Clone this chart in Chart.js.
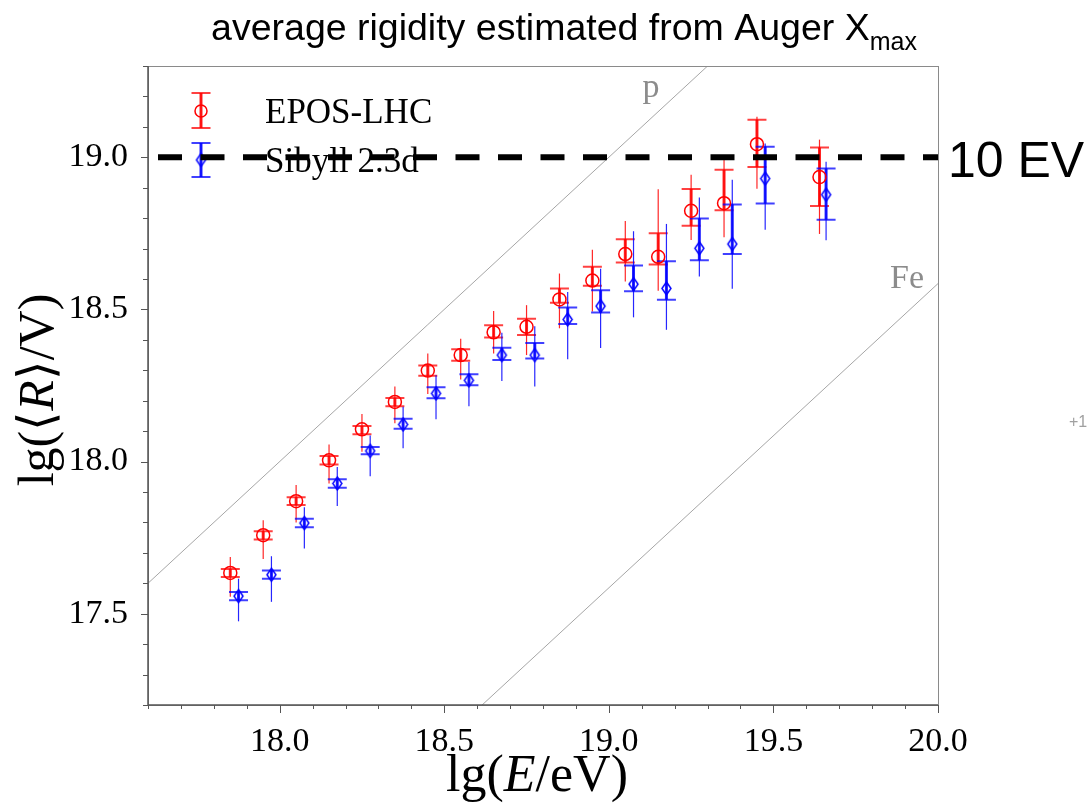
<!DOCTYPE html>
<html>
<head>
<meta charset="utf-8">
<title>average rigidity estimated from Auger Xmax</title>
<script src="https://cdn.jsdelivr.net/npm/chart.js@4.4.0/dist/chart.umd.min.js"></script>
<style>
    html, body { margin: 0; padding: 0; background: #fff; }
    #wrap { width: 1092px; height: 803px; }
</style>
</head>
<body>
<div id="wrap"><canvas id="chart" width="1092" height="803"></canvas></div>
<script>
// EPOS-LHC: lg(E/eV), lg(<R>/V), stat and sys errors (up / down)
const eposLgE = [17.85, 17.95, 18.05, 18.15, 18.25, 18.35, 18.45, 18.55, 18.65, 18.75, 18.85, 18.95, 19.05, 19.15, 19.25, 19.35, 19.45, 19.64];
const eposLgR = [17.634, 17.758, 17.870, 18.004, 18.106, 18.196, 18.299, 18.350, 18.425, 18.443, 18.533, 18.595, 18.682, 18.673, 18.824, 18.849, 19.043, 18.935];
const eposStatUp = [0.052, 0.049, 0.053, 0.052, 0.050, 0.051, 0.056, 0.054, 0.070, 0.071, 0.085, 0.101, 0.109, 0.222, 0.119, 0.144, 0.090, 0.123];
const eposStatDown = [0.078, 0.078, 0.070, 0.076, 0.074, 0.070, 0.077, 0.080, 0.070, 0.093, 0.095, 0.102, 0.090, 0.112, 0.096, 0.112, 0.146, 0.187];
const eposSysUp = [0.013, 0.013, 0.013, 0.014, 0.011, 0.013, 0.017, 0.019, 0.023, 0.026, 0.036, 0.045, 0.049, 0.077, 0.072, 0.110, 0.080, 0.097];
const eposSysDown = [0.013, 0.014, 0.013, 0.014, 0.016, 0.014, 0.017, 0.019, 0.017, 0.027, 0.011, 0.017, 0.028, 0.025, 0.049, 0.023, 0.075, 0.095];

// Sibyll 2.3d
const sibyllLgE = [17.875, 17.975, 18.075, 18.175, 18.275, 18.375, 18.475, 18.575, 18.675, 18.775, 18.875, 18.975, 19.075, 19.175, 19.275, 19.375, 19.475, 19.66];
const sibyllLgR = [17.558, 17.628, 17.798, 17.928, 18.035, 18.122, 18.224, 18.267, 18.350, 18.350, 18.467, 18.511, 18.583, 18.569, 18.701, 18.715, 18.930, 18.877];
const sibyllStatUp = [0.057, 0.061, 0.052, 0.054, 0.051, 0.058, 0.060, 0.060, 0.073, 0.095, 0.090, 0.123, 0.174, 0.212, 0.167, 0.211, 0.115, 0.108];
const sibyllStatDown = [0.083, 0.089, 0.084, 0.074, 0.083, 0.078, 0.085, 0.085, 0.085, 0.103, 0.131, 0.138, 0.109, 0.136, 0.093, 0.147, 0.168, 0.150];
const sibyllSysUp = [0.013, 0.014, 0.014, 0.014, 0.013, 0.019, 0.020, 0.020, 0.024, 0.040, 0.039, 0.052, 0.061, 0.089, 0.098, 0.130, 0.105, 0.086];
const sibyllSysDown = [0.014, 0.013, 0.014, 0.014, 0.011, 0.014, 0.016, 0.016, 0.016, 0.011, 0.015, 0.021, 0.023, 0.037, 0.039, 0.033, 0.082, 0.082];

// pure proton / pure iron lines and the 10 EV level
const protonLineE = [17.5, 20.0];
const protonLineR = [17.5, 20.0];
const ironLineE = [18.5, 20.0];
const ironLineR = [17.085, 18.585];
const tenEVLineE = [17.6, 20.0];
const tenEVLineR = [19.0, 19.0];

const xTickLabels = ['18.0', '18.5', '19.0', '19.5', '20.0'];
const yTickLabels = ['17.5', '18.0', '18.5', '19.0'];

const serif = '"Liberation Serif", "Times New Roman", serif';
const sans = '"Liberation Sans", Arial, sans-serif';
const RED = '#ff0000';
const BLUE = '#0000ff';

function toPoints(xs, ys) {
    return xs.map(function(x, i) { return {x: x, y: ys[i]}; });
}

function diamondMarker(w, h, color) {
    const c = document.createElement('canvas');
    c.width = w + 4;
    c.height = h + 4;
    const g = c.getContext('2d');
    g.strokeStyle = color;
    g.lineWidth = 1.5;
    g.beginPath();
    g.moveTo(c.width / 2, 2);
    g.lineTo(c.width - 2, c.height / 2);
    g.lineTo(c.width / 2, c.height - 2);
    g.lineTo(2, c.height / 2);
    g.closePath();
    g.stroke();
    return c;
}

function drawBar(ctx, px, yStatTop, yStatBot, ySysTop, ySysBot, color) {
    ctx.strokeStyle = color;
    // stat error: thin line
    ctx.globalAlpha = 0.85;
    ctx.lineWidth = 1.2;
    ctx.beginPath();
    ctx.moveTo(px, yStatTop);
    ctx.lineTo(px, yStatBot);
    ctx.stroke();
    // sys error: thick line + caps
    ctx.lineWidth = 3;
    ctx.beginPath();
    ctx.moveTo(px, ySysTop);
    ctx.lineTo(px, ySysBot);
    ctx.stroke();
    ctx.globalAlpha = 0.75;
    ctx.lineWidth = 2;
    ctx.beginPath();
    ctx.moveTo(px - 9.5, ySysTop);
    ctx.lineTo(px + 9.5, ySysTop);
    ctx.moveTo(px - 9.5, ySysBot);
    ctx.lineTo(px + 9.5, ySysBot);
    ctx.stroke();
    ctx.globalAlpha = 1;
}

function drawErrors(chart, lgE, lgR, statUp, statDown, sysUp, sysDown, color) {
    const ctx = chart.ctx;
    const x = chart.scales.x;
    const y = chart.scales.y;
    for (let i = 0; i < lgE.length; i++) {
        const px = x.getPixelForValue(lgE[i]);
        drawBar(ctx, px,
            y.getPixelForValue(lgR[i] + statUp[i]),
            y.getPixelForValue(lgR[i] - statDown[i]),
            y.getPixelForValue(lgR[i] + sysUp[i]),
            y.getPixelForValue(lgR[i] - sysDown[i]),
            color);
    }
}

function drawSegments(ctx, parts, x, y, align) {
    let total = 0;
    parts.forEach(function(p) { ctx.font = p.font; total += ctx.measureText(p.text).width; });
    let cx = align === 'center' ? x - total / 2 : x;
    parts.forEach(function(p) {
        ctx.font = p.font;
        ctx.fillText(p.text, cx, y + (p.dy || 0));
        cx += ctx.measureText(p.text).width;
    });
}

const sibyllMarker = diamondMarker(9, 13, BLUE);

const errorBars = {
    id: 'errorBars',
    beforeDatasetsDraw(chart) {
        const ctx = chart.ctx;
        ctx.save();
        drawErrors(chart, eposLgE, eposLgR, eposStatUp, eposStatDown, eposSysUp, eposSysDown, RED);
        drawErrors(chart, sibyllLgE, sibyllLgR, sibyllStatUp, sibyllStatDown, sibyllSysUp, sibyllSysDown, BLUE);

        // legend
        drawBar(ctx, 201, 93, 128, 93, 128, RED);
        ctx.strokeStyle = RED;
        ctx.lineWidth = 1.5;
        ctx.beginPath();
        ctx.arc(201, 111, 6, 0, Math.PI * 2);
        ctx.stroke();
        drawBar(ctx, 201, 143, 177, 143, 177, BLUE);
        ctx.drawImage(sibyllMarker, 201 - sibyllMarker.width / 2, 160 - sibyllMarker.height / 2);

        ctx.fillStyle = '#000';
        ctx.textBaseline = 'alphabetic';
        ctx.font = '35px ' + serif;
        ctx.fillText('EPOS-LHC', 265, 123);
        ctx.fillText('Sibyll 2.3d', 265, 172);
        ctx.restore();
    }
};

const frameAndText = {
    id: 'frameAndText',
    afterDraw(chart) {
        const ctx = chart.ctx;
        const a = chart.chartArea;
        const x = chart.scales.x;
        const y = chart.scales.y;
        ctx.save();

        // plot box
        ctx.strokeStyle = '#8a8a8a';
        ctx.lineWidth = 1;
        ctx.strokeRect(a.left + 0.5, a.top + 0.5, a.right - a.left, a.bottom - a.top);
        ctx.strokeStyle = '#555';
        ctx.lineWidth = 1.5;
        ctx.beginPath();
        ctx.moveTo(a.left, a.top);
        ctx.lineTo(a.left, a.bottom);
        ctx.lineTo(a.right, a.bottom);
        ctx.stroke();

        // tick marks, outward
        ctx.lineWidth = 1;
        ctx.beginPath();
        x.ticks.forEach(function(t) {
            const px = Math.round(x.getPixelForValue(t.value)) + 0.5;
            const len = t.label !== '' ? 8 : 4;
            ctx.moveTo(px, a.bottom);
            ctx.lineTo(px, a.bottom + len);
        });
        y.ticks.forEach(function(t) {
            const py = Math.round(y.getPixelForValue(t.value)) + 0.5;
            const len = t.label !== '' ? 7 : 5;
            ctx.moveTo(a.left, py);
            ctx.lineTo(a.left - len, py);
        });
        ctx.stroke();

        // line labels
        ctx.fillStyle = '#8c8c8c';
        ctx.font = '34px ' + serif;
        ctx.textAlign = 'center';
        ctx.fillText('p', 651, 97);
        ctx.fillText('Fe', 907, 288);

        // axis titles
        ctx.fillStyle = '#000';
        ctx.textAlign = 'left';
        drawSegments(ctx, [
            {text: 'lg(', font: '52px ' + serif},
            {text: 'E', font: 'italic 52px ' + serif},
            {text: '/eV)', font: '52px ' + serif}
        ], 537, 791, 'center');

        ctx.save();
        ctx.translate(53, 390);
        ctx.rotate(-Math.PI / 2);
        drawSegments(ctx, [
            {text: 'lg(\u27e8', font: '50px ' + serif},
            {text: 'R', font: 'italic 50px ' + serif},
            {text: '\u27e9/V)', font: '50px ' + serif}
        ], 0, 0, 'center');
        ctx.restore();

        // title
        drawSegments(ctx, [
            {text: 'average rigidity estimated from Auger X', font: '37.5px ' + sans},
            {text: 'max', font: '25px ' + sans, dy: 10}
        ], 564, 40, 'center');

        ctx.font = '50px ' + sans;
        ctx.fillText('10 EV', 948, 177);

        ctx.fillStyle = '#a0a0a0';
        ctx.font = '16px ' + sans;
        ctx.fillText('+1', 1069, 427);

        ctx.restore();
    }
};

function tickLabel(list) {
    return function(value) {
        const s = (Math.round(value * 10) / 10).toFixed(1);
        return list.indexOf(s) >= 0 ? s : '';
    };
}

Chart.defaults.font.family = serif;
Chart.defaults.color = '#000';

new Chart(document.getElementById('chart'), {
    type: 'scatter',
    data: {
        datasets: [
            {
                label: '10 EV',
                data: toPoints(tenEVLineE, tenEVLineR),
                showLine: true,
                borderColor: '#000',
                borderWidth: 6,
                borderDash: [24, 18.5],
                borderDashOffset: 32.5,
                pointRadius: 0,
                order: -1
            },
            {
                label: 'EPOS-LHC',
                data: toPoints(eposLgE, eposLgR),
                pointStyle: 'circle',
                pointRadius: 6.5,
                pointBorderWidth: 1.5,
                borderColor: RED,
                backgroundColor: 'rgba(0,0,0,0)',
                order: 1
            },
            {
                label: 'Sibyll 2.3d',
                data: toPoints(sibyllLgE, sibyllLgR),
                pointStyle: sibyllMarker,
                pointRadius: 7,
                borderColor: BLUE,
                backgroundColor: 'rgba(0,0,0,0)',
                order: 2
            },
            {
                label: 'p',
                data: toPoints(protonLineE, protonLineR),
                showLine: true,
                borderColor: '#a6a6a6',
                borderWidth: 1,
                pointRadius: 0,
                order: 5
            },
            {
                label: 'Fe',
                data: toPoints(ironLineE, ironLineR),
                showLine: true,
                borderColor: '#a6a6a6',
                borderWidth: 1,
                pointRadius: 0,
                order: 6
            }
        ]
    },
    options: {
        responsive: false,
        animation: false,
        layout: { padding: { top: 66, right: 154, left: 0, bottom: 0 } },
        plugins: {
            legend: { display: false },
            title: { display: false },
            tooltip: { enabled: false }
        },
        scales: {
            x: {
                type: 'linear',
                min: 17.6,
                max: 20.0,
                grid: { display: false },
                border: { display: false },
                ticks: {
                    stepSize: 0.1,
                    autoSkip: false,
                    maxRotation: 0,
                    padding: 9,
                    font: { size: 34, family: serif },
                    callback: tickLabel(xTickLabels)
                },
                afterFit: function(scale) { scale.height = 98; }
            },
            y: {
                type: 'linear',
                min: 17.2,
                max: 19.3,
                grid: { display: false },
                border: { display: false },
                ticks: {
                    stepSize: 0.1,
                    autoSkip: false,
                    padding: 12,
                    font: { size: 34, family: serif },
                    callback: tickLabel(yTickLabels)
                },
                afterFit: function(scale) { scale.width = 148; }
            }
        }
    },
    plugins: [errorBars, frameAndText]
});
</script>
</body>
</html>
